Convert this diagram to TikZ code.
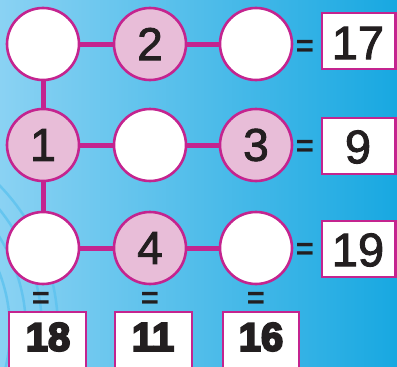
\documentclass[tikz,border=0pt]{standalone}
\usepackage{fontspec}
\setmainfont{Liberation Sans}
\newfontfamily\heavyfont[FakeBold=5]{Liberation Sans Bold}
\newfontfamily\medfont[FakeBold=2]{Liberation Sans}
\newfontfamily\boldfont{Liberation Sans Bold}
\usetikzlibrary{backgrounds}
\definecolor{mag}{HTML}{C4248F}
\definecolor{pinkfill}{HTML}{E8BDD8}
\definecolor{bgl}{HTML}{8AD2F3}
\definecolor{bgr}{HTML}{18A8E1}
\definecolor{arcc}{HTML}{5DC2EF}
\definecolor{ink}{HTML}{231F20}
\tikzset{
  circ/.style={circle, draw=mag, line width=2.6pt, minimum size=72pt, inner sep=0pt, fill=white,
     text=ink, font=\medfont\fontsize{46}{46}\selectfont},
  pcirc/.style={circ, fill=pinkfill},
  conn/.style={draw=mag, line width=5pt},
  rbox/.style={draw=mag, line width=2.6pt, fill=white, text=ink, inner sep=0pt,
     font=\medfont\fontsize{47}{47}\selectfont},
  eqs/.style={text=ink, inner sep=0pt, font=\boldfont\fontsize{31}{31}\selectfont},
  bnum/.style={text=ink, inner sep=0pt, font=\heavyfont\fontsize{40}{40}\selectfont},
}
\begin{document}
\begin{tikzpicture}[x=1pt,y=-1pt]
\useasboundingbox (0,0) rectangle (397,367);
\clip (0,0) rectangle (397,367);
% circles
\node[circ]  (a1) at (43,44) {};
\node[pcirc] (a2) at (150,44) {2};
\node[circ]  (a3) at (256,44) {};
\node[pcirc] (b1) at (43,145) {1};
\node[circ]  (b2) at (150,145) {};
\node[pcirc] (b3) at (256,145) {3};
\node[circ]  (c1) at (43,248) {};
\node[pcirc] (c2) at (150,248) {4};
\node[circ]  (c3) at (256,248) {};
% right boxes
\draw[rbox] (322,13) rectangle (395.5,69);
\node[rbox, draw=none, fill=none] (r1) at (358,43) {17};
\draw[rbox] (322,118) rectangle (395.5,174);
\node[rbox, draw=none, fill=none] (r2) at (358,147) {9};
\draw[rbox] (322,221) rectangle (395.5,277);
\node[rbox, draw=none, fill=none] (r3) at (358,250) {19};
% bottom boxes
\draw[rbox] (9,312) rectangle (86,380);
\node[bnum] (s1) at (48,337) {18};
\draw[rbox] (115,312) rectangle (192,380);
\node[bnum] (s2) at (153,337) {11};
\draw[rbox] (223,312) rectangle (299,380);
\node[bnum] (s3) at (261,337) {16};
% equals
\node[eqs] (e1) at (305,48) {=};
\node[eqs] (e2) at (305,148) {=};
\node[eqs] (e3) at (305,251) {=};
\node[eqs] (e4) at (41,300) {=};
\node[eqs] (e5) at (150,300) {=};
\node[eqs] (e6) at (256,300) {=};
\begin{pgfonlayer}{background}
  \shade[left color=bgl, right color=bgr] (0,0) rectangle (397,367);
  \begin{scope}
    \clip (0,0) rectangle (397,367);
    \foreach \r in {160,176,192,208}
      \draw[arcc, line width=2.5pt, opacity=0.8] (-150,330) circle[radius=\r];
  \end{scope}
  \draw[conn] (a1) -- (a2);
  \draw[conn] (a2) -- (a3);
  \draw[conn] (b1) -- (b2);
  \draw[conn] (b2) -- (b3);
  \draw[conn] (c1) -- (c2);
  \draw[conn] (c2) -- (c3);
  \draw[conn] (a1) -- (b1);
  \draw[conn] (b1) -- (c1);
\end{pgfonlayer}
\end{tikzpicture}
\end{document}
